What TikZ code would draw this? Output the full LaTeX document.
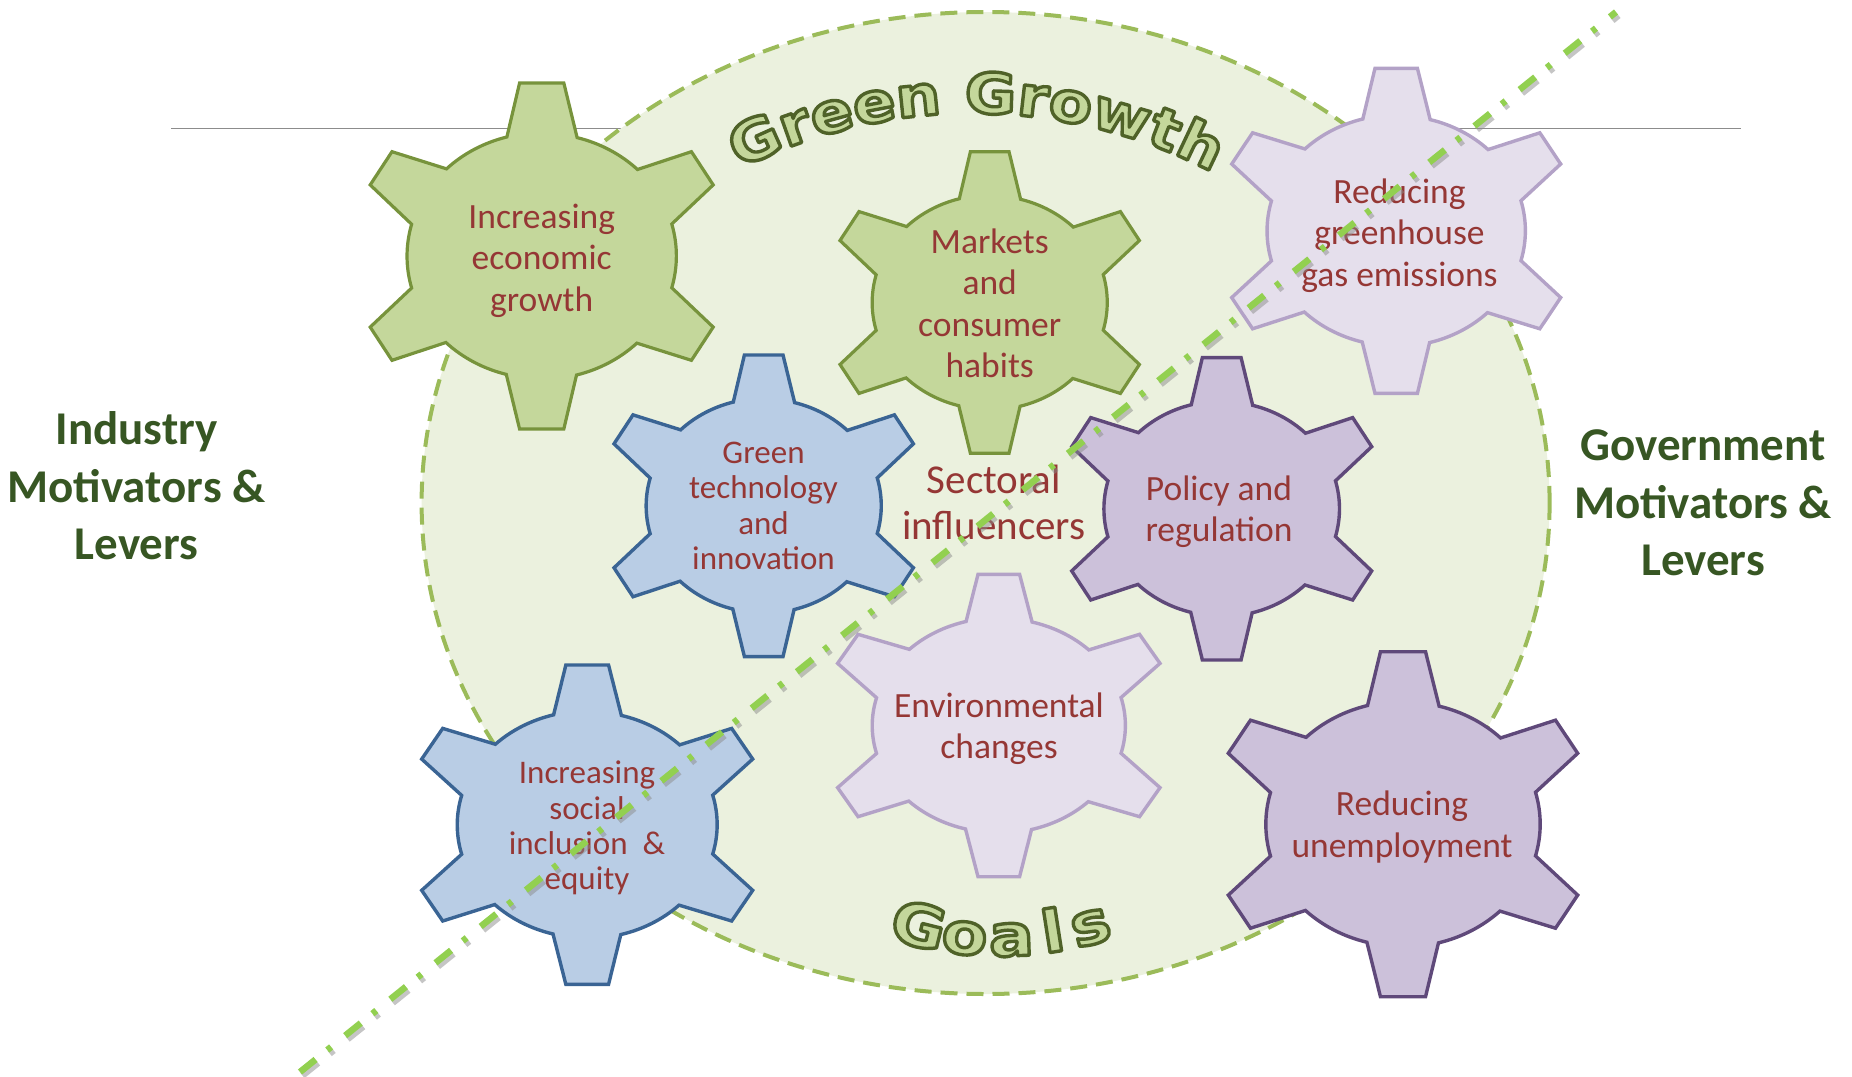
\documentclass[tikz,border=0pt]{standalone}
\usepackage{fontspec}
\setmainfont{Carlito}
\newfontfamily\artfont[FakeStretch=1.12]{DejaVu Sans}
\newfontfamily\goalfont[FakeStretch=1.15]{DejaVu Sans}
\usetikzlibrary{calc}

\definecolor{ringfill}{HTML}{EBF1DE}
\definecolor{ringline}{HTML}{9BBB59}
\definecolor{olivefill}{HTML}{C4D79B}
\definecolor{oliveline}{HTML}{77933C}
\definecolor{bluefill}{HTML}{B9CDE5}
\definecolor{blueline}{HTML}{3A6494}
\definecolor{lilacfill}{HTML}{E5DFEC}
\definecolor{lilacline}{HTML}{B3A2C7}
\definecolor{plumfill}{HTML}{CCC1DA}
\definecolor{plumline}{HTML}{5F497A}
\definecolor{labelred}{HTML}{953735}
\definecolor{sidegreen}{HTML}{375623}
\definecolor{splitline}{HTML}{92D050}

% six-tooth gear: style, centre x, centre y (downwards), half width, half height
\newcommand\gearoutline[5]{%
  \begin{scope}[shift={(#2,-#3)},xscale=#4,yscale=#5]
    \path[#1] (0.7585,-0.1836)
      arc[start angle=-15,end angle=15,x radius=0.785pt,y radius=0.712pt]
      -- (1,0.411) -- (0.873,0.603) -- (0.5585,0.5)
      arc[start angle=45,end angle=75,x radius=0.785pt,y radius=0.712pt]
      -- (0.129,1) -- (-0.129,1) -- (-0.203,0.688)
      arc[start angle=105,end angle=135,x radius=0.785pt,y radius=0.712pt]
      -- (-0.873,0.603) -- (-1,0.411) -- (-0.7585,0.1836)
      arc[start angle=165,end angle=195,x radius=0.785pt,y radius=0.712pt]
      -- (-1,-0.411) -- (-0.873,-0.603) -- (-0.5585,-0.5)
      arc[start angle=225,end angle=255,x radius=0.785pt,y radius=0.712pt]
      -- (-0.129,-1) -- (0.129,-1) -- (0.203,-0.688)
      arc[start angle=285,end angle=315,x radius=0.785pt,y radius=0.712pt]
      -- (0.873,-0.603) -- (1,-0.411) -- cycle;
  \end{scope}}

% display letters: filled and stroked with a dark olive rim
\newcommand\rimtext[1]{%
  \special{pdf:literal direct 2 Tr 3.4 w 1 j 0.31 0.384 0.157 RG}#1%
  \special{pdf:literal direct 0 Tr}}

\tikzset{
  olivegear/.style={fill=olivefill,draw=oliveline,line width=3.2pt,line join=miter},
  bluegear/.style={fill=bluefill,draw=blueline,line width=3.4pt,line join=miter},
  lilacgear/.style={fill=lilacfill,draw=lilacline,line width=3.4pt,line join=miter},
  plumgear/.style={fill=plumfill,draw=plumline,line width=3.4pt,line join=miter},
  geartext/.style={align=center,text=labelred,inner sep=0pt},
  bigsize/.style={font=\fontsize{35.5}{41.5}\selectfont},
  smallsize/.style={font=\fontsize{33}{35.3}\selectfont},
  sidelabel/.style={align=center,text=sidegreen,inner sep=0pt,
    font=\bfseries\fontsize{47}{57.5}\selectfont},
  arcletter/.style={anchor=base,inner sep=0pt,text=olivefill},
  growthletter/.style={arcletter,font=\artfont\bfseries\fontsize{56}{60}\selectfont},
  goalletter/.style={arcletter,font=\goalfont\bfseries\fontsize{58}{62}\selectfont},
  splitdash/.style={draw=splitline,line width=6.5pt,
    dash pattern=on 20pt off 15pt on 5pt off 18pt},
  splitshade/.style={draw=black!45,opacity=0.5,line width=6.5pt,
    dash pattern=on 20pt off 15pt on 5pt off 18pt},
}

\begin{document}
\begin{tikzpicture}[x=1pt,y=1pt]
  \useasboundingbox (0,0) rectangle (1852,-1076);

  % thin rule behind the ring
  \coordinate (ruleL) at (171,-128.7);
  \coordinate (ruleR) at (1741,-128.7);
  \draw[black!45,line width=1.5pt] (ruleL) -- (ruleR);

  % the goals ring
  \draw[fill=ringfill,draw=ringline,line width=4pt,dash pattern=on 17pt off 9pt]
    (985.6,-503) ellipse[x radius=564pt,y radius=491pt];

  % gears
  \gearoutline{olivegear}{541.7}{256}{171.5}{173}
  \gearoutline{olivegear}{989.7}{302.5}{149.7}{150.8}
  \gearoutline{lilacgear}{1396.2}{230.8}{164.5}{162.5}
  \gearoutline{bluegear}{763.7}{505.8}{149.7}{150.8}
  \gearoutline{plumgear}{1221.7}{508.8}{150}{151.2}
  \gearoutline{lilacgear}{998.8}{725.5}{161.2}{151.2}
  \gearoutline{bluegear}{587.2}{824.7}{165.5}{159.7}
  \gearoutline{plumgear}{1403}{824.2}{174.7}{172.5}

  % gear labels
  \node[geartext,bigsize] (econ) at (541.7,-260.5) {Increasing\\economic\\growth};
  \node[geartext,bigsize] (market) at (989.7,-303.5) {Markets\\and\\consumer\\habits};
  \node[geartext,bigsize] (ghg) at (1399.5,-235.5) {Reducing\\greenhouse\\gas emissions};
  \node[geartext,smallsize] (tech) at (763.5,-506) {Green\\technology\\and\\innovation};
  \node[geartext,bigsize] (policy) at (1219,-511.5) {Policy and\\regulation};
  \node[geartext,bigsize] (env) at (999,-728.5) {Environmental\\changes};
  \node[geartext,smallsize] (social) at (587,-828) {Increasing\\social\\inclusion \ \&\\equity};
  \node[geartext,bigsize] (jobs) at (1402,-827) {Reducing\\unemployment};

  \node[geartext,font=\fontsize{41}{46}\selectfont] (sector) at (993.8,-502) {Sectoral\\influencers};

  % side headings
  \node[sidelabel] (industry) at (136.5,-486) {Industry\\Motivators \&\\Levers};
  \node[sidelabel] (govt) at (1703,-503) {Government\\Motivators \&\\Levers};

  % arched title
  \coordinate (growthhub) at (972.9,-628.2);
  \foreach \ch/\th [count=\i] in {G/-24.1,r/-19.5,e/-15.4,e/-10.7,n/-5.9,G/1.9,r/6.5,o/10.6,w/16.2,t/21.1,h/25.3}
    \node[growthletter,rotate=-\th] (title-\i) at ($(growthhub)+(90-\th:515pt)$) {\rimtext{\ch}};

  % bowed footer word
  \coordinate (goalhub) at (1000,-595);
  \foreach \ch/\ph [count=\i] in {G/-13.8,o/-5.9,a/1.9,l/8.9,s/15.3}
    \node[goalletter,rotate=\ph] (goal-\i) at ($(goalhub)+(-90+\ph:361pt)$) {\rimtext{\ch}};

  % dash-dot divider between industry and government sides
  \coordinate (cutA) at (300,-1072);
  \coordinate (cutB) at (1616,-12);
  \draw[splitshade] ($(cutA)+(2.5,-3.5)$) -- ($(cutB)+(2.5,-3.5)$);
  \draw[splitdash] (cutA) -- (cutB);
\end{tikzpicture}
\end{document}
